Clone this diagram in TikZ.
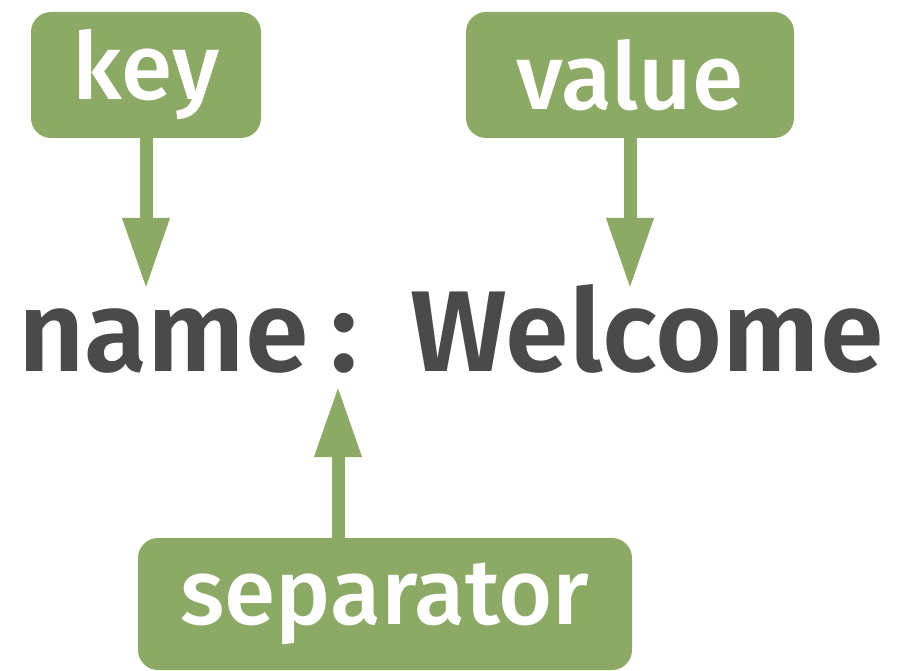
\documentclass[tikz,border=0pt]{standalone}
\usepackage{fontspec}
\setmainfont{Fira Sans}
\newfontfamily\tagfont{Fira Sans}[UprightFont=* Medium]
\newfontfamily\wordfont{Fira Sans}[UprightFont=* SemiBold]
\usetikzlibrary{arrows.meta}
\definecolor{tagGreen}{RGB}{140,170,102}
\definecolor{wordGrey}{RGB}{74,74,74}

\begin{document}
\begin{tikzpicture}[x=1pt,y=-1pt,
  tag/.style={fill=tagGreen,rounded corners=20pt,text=white,inner sep=0pt,font=\tagfont\fontsize{93}{100}\selectfont},
  word/.style={text=wordGrey,inner sep=0pt,anchor=base west,font=\wordfont\fontsize{115}{120}\selectfont},
  pointer/.style={draw=tagGreen,line width=13pt,-{Triangle[length=71pt,width=44pt]}}]
  \useasboundingbox (0,0) rectangle (898,671);
  \node[tag,minimum width=230pt,minimum height=126pt] (key) at (146,75) {key};
  \node[tag,minimum width=328pt,minimum height=126pt] (value) at (630,75) {value};
  \node[tag,minimum width=494pt,minimum height=132pt] (sep) at (385,604) {separator};

  \node[word] (name) at (18,372) {name};
  \node[word] (colon) at (330,372) {:};
  \node[word] (welcome) at (410,372) {Welcome};

  \coordinate (keytip) at (146,289);
  \coordinate (valuetip) at (630,289);
  \coordinate (septip) at (338,386);

  \draw[pointer] (key.south) -- (keytip);
  \draw[pointer] (value.south) -- (valuetip);
  \draw[pointer] (sep.north -| septip) -- (septip);
\end{tikzpicture}
\end{document}
